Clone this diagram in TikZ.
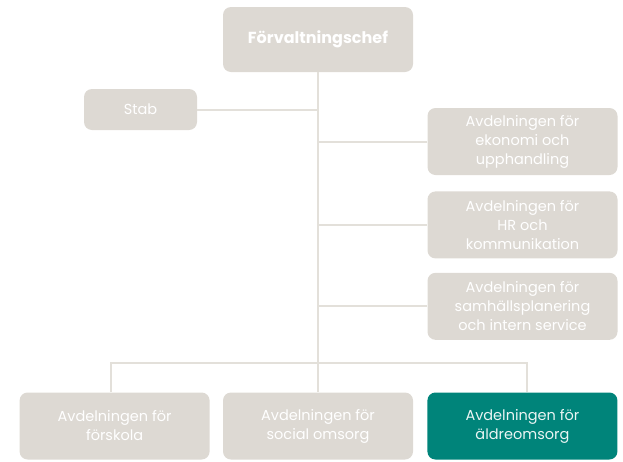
\documentclass[tikz,border=0pt]{standalone}
\usepackage{fontspec}
\setmainfont{Poppins}
\usetikzlibrary{positioning}
\definecolor{boxgray}{HTML}{DDD9D3}
\definecolor{linegray}{HTML}{E3E0DA}
\definecolor{teal}{HTML}{00847A}
\begin{document}
\begin{tikzpicture}[x=1pt, y=1pt,
    box/.style={rounded corners=8pt, fill=boxgray, text=white, align=center,
                minimum width=190pt, minimum height=67pt, inner sep=0pt,
                font=\fontsize{14.5}{19}\selectfont},
    hl/.style={box, fill=teal, text=white!92!teal},
    link/.style={draw=linegray, line width=2pt}]
\useasboundingbox (0,0) rectangle (623,-461);

% top and staff
\node [box, minimum height=65pt, font=\fontsize{16}{19}\selectfont\bfseries]
      at (318,-39.5) (chef) {Förvaltningschef};
\node [box, minimum width=113pt, minimum height=41pt]
      at (140.5,-109.5) (stab) {Stab};

% departments on the right
\node [box] at (522.5,-141.5)  (eko) {Avdelningen för\\ekonomi och\\upphandling};
\node [box, below= 16pt of eko] (hr)  {Avdelningen för\\HR och\\kommunikation};
\node [box, below= 14pt of hr]  (sam) {Avdelningen för\\samhällsplanering\\och intern service};

% departments at the bottom
\node [box] at (318,-426)       (soc)   {Avdelningen för\\social omsorg};
\node [box, left= 13pt of soc]  (fsk)   {Avdelningen för\\förskola};
\node [hl, right= 14pt of soc]  (aldre) {Avdelningen för\\äldreomsorg};

\coordinate (jb) at (318,-363);

\draw [link] (chef) -- (jb);
\draw [link] (stab) -- (stab -| chef);
\draw [link] (eko.west) -- (eko.west -| chef);
\draw [link] (hr.west)  -- (hr.west -| chef);
\draw [link] (sam.west) -- (sam.west -| chef);
\draw [link] ([xshift=-3.5pt]fsk.north) |- (jb) -| ([xshift=4.5pt]aldre.north);
\draw [link] (jb) -- (soc);

\end{tikzpicture}
\end{document}
